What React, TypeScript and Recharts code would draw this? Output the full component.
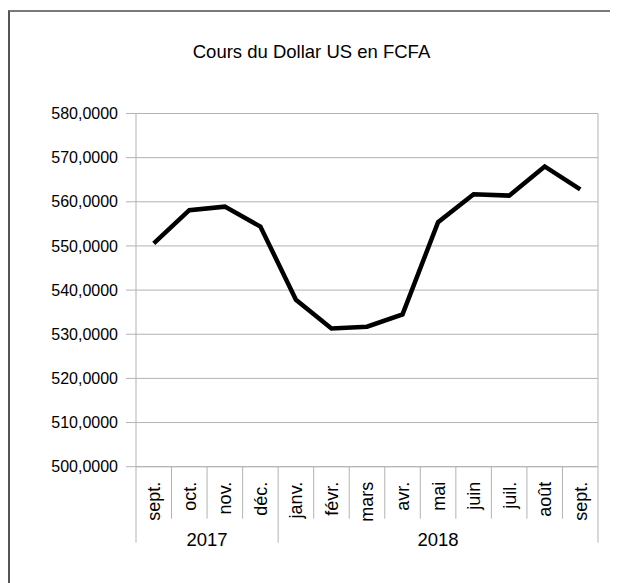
import { LineChart, Line, XAxis, YAxis, CartesianGrid, ReferenceLine } from 'recharts';

const months = ['sept.', 'oct.', 'nov.', 'déc.', 'janv.', 'févr.', 'mars', 'avr.', 'mai', 'juin', 'juil.', 'août', 'sept.'];
const years = ['2017', '2017', '2017', '2017', '2018', '2018', '2018', '2018', '2018', '2018', '2018', '2018', '2018'];
const rates = [550.6, 558.1, 558.9, 554.4, 537.8, 531.3, 531.7, 534.5, 555.4, 561.7, 561.4, 568.0, 562.8];
const yTicks = [500, 510, 520, 530, 540, 550, 560, 570, 580];

const data = months.map((m, i) => ({ key: `${m} ${years[i]}`, rate: rates[i] }));

const W = 610;
const H = 575;
const Y_W = 128;
const M_RIGHT = 20;
const GRID = '#b3b3b3';
const FONT = '"Liberation Sans", Arial, sans-serif';

const MonthTick = (props: any) => {
  const { x, y, index, payload } = props;
  const off = payload?.offset || (W - Y_W - M_RIGHT) / months.length / 2;
  const left = x - off;
  const firstOfYear = index === 0 || years[index] !== years[index - 1];
  const last = index === months.length - 1;
  const count = years.filter(yr => yr === years[index]).length;
  return (
    <g>
      <line x1={left} y1={y} x2={left} y2={y + (firstOfYear ? 76 : 52)} stroke={GRID} strokeWidth={1} />
      {last && <line x1={x + off} y1={y} x2={x + off} y2={y + 76} stroke={GRID} strokeWidth={1} />}
      <text
        x={x}
        y={y + 15}
        dy="0.36em"
        textAnchor="end"
        transform={`rotate(-90, ${x}, ${y + 15})`}
        fontSize={18}
        fontFamily={FONT}
        fill="#000"
      >
        {months[index]}
      </text>
      {firstOfYear && (
        <text x={left + count * off} y={y + 79} textAnchor="middle" fontSize={18.5} fontFamily={FONT} fill="#000">
          {years[index]}
        </text>
      )}
    </g>
  );
};

export default function App() {
  return (
    <div style={{ position: 'relative', width: W, height: H, overflow: 'hidden' }}>
      <div
        style={{
          position: 'absolute',
          left: 0,
          top: 2,
          width: W + 10,
          height: H + 10,
          borderTop: '2px solid #7a7a7a',
          borderLeft: '2px solid #555',
          boxSizing: 'border-box',
        }}
      />
      <LineChart width={W} height={H} data={data} margin={{ top: 105.5, right: M_RIGHT, left: 0, bottom: 16.3 }}>
        <CartesianGrid vertical={false} stroke={GRID} />
        <XAxis
          dataKey="key"
          scale="band"
          interval={0}
          height={100}
          tickSize={0}
          tickMargin={0}
          tickLine={false}
          axisLine={{ stroke: GRID }}
          tick={<MonthTick />}
        />
        <YAxis
          domain={[500, 580]}
          ticks={yTicks}
          width={Y_W}
          tickSize={10}
          tickMargin={8}
          tickLine={{ stroke: GRID }}
          axisLine={{ stroke: GRID }}
          tick={{ fontSize: 16, fontFamily: FONT, fill: '#000' }}
          tickFormatter={(v: number) => v.toFixed(4).replace('.', ',')}
        />
        <ReferenceLine x={data[data.length - 1].key} position="end" stroke={GRID} />
        <Line
          dataKey="rate"
          stroke="#000"
          strokeWidth={4.5}
          dot={false}
          isAnimationActive={false}
        />
      </LineChart>
      <div
        style={{
          position: 'absolute',
          left: 0,
          top: 34.5,
          width: 607,
          textAlign: 'center',
          fontFamily: FONT,
          fontSize: 18.5,
          lineHeight: '18px',
          color: '#000',
        }}
      >
        Cours du Dollar US en FCFA
      </div>
    </div>
  );
}
